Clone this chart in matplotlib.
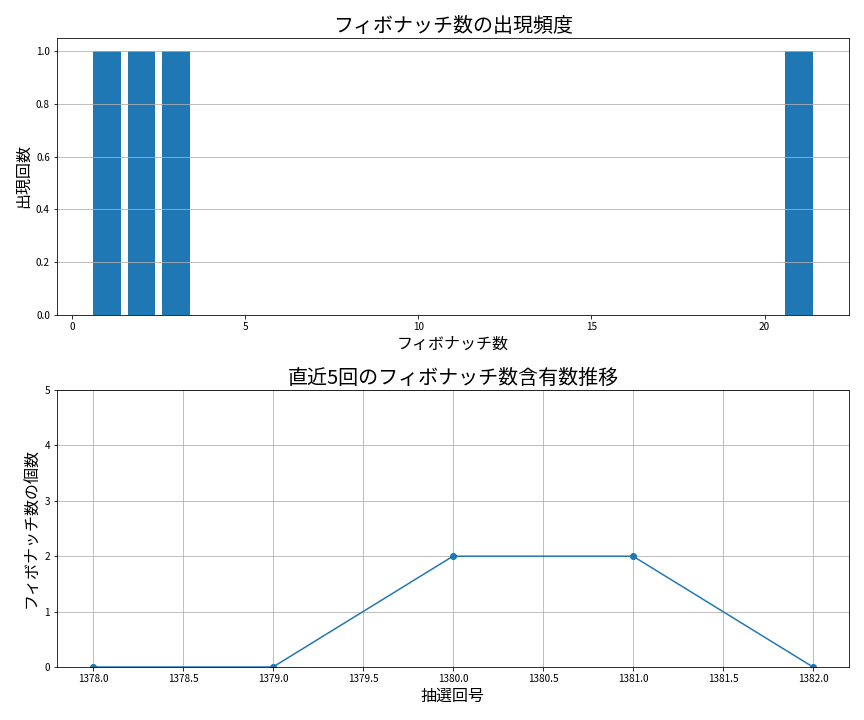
import matplotlib
matplotlib.use("Agg")
import matplotlib.pyplot as plt

plt.rcParams['font.family'] = ['Noto Sans CJK JP', 'DejaVu Sans']

fib_numbers = [1, 2, 3, 21]
fib_counts = [1, 1, 1, 1]

draws = [1378, 1379, 1380, 1381, 1382]
fib_per_draw = [0, 0, 2, 2, 0]

fig, (ax1, ax2) = plt.subplots(2, 1, figsize=(12, 10), dpi=72)

ax1.bar(fib_numbers, fib_counts, color='#1f77b4')
ax1.set_title('フィボナッチ数の出現頻度', fontsize=20)
ax1.set_xlabel('フィボナッチ数', fontsize=16)
ax1.set_ylabel('出現回数', fontsize=16)
ax1.grid(axis='y')

ax2.plot(draws, fib_per_draw, marker='o', color='#1f77b4')
ax2.set_title('直近5回のフィボナッチ数含有数推移', fontsize=20)
ax2.set_xlabel('抽選回号', fontsize=16)
ax2.set_ylabel('フィボナッチ数の個数', fontsize=16)
ax2.set_ylim(0, 5)
ax2.grid(True)

fig.subplots_adjust(left=57/864, right=849/864, top=1-38/720, bottom=1-667/720, hspace=75/277)
fig.savefig('out.png')
